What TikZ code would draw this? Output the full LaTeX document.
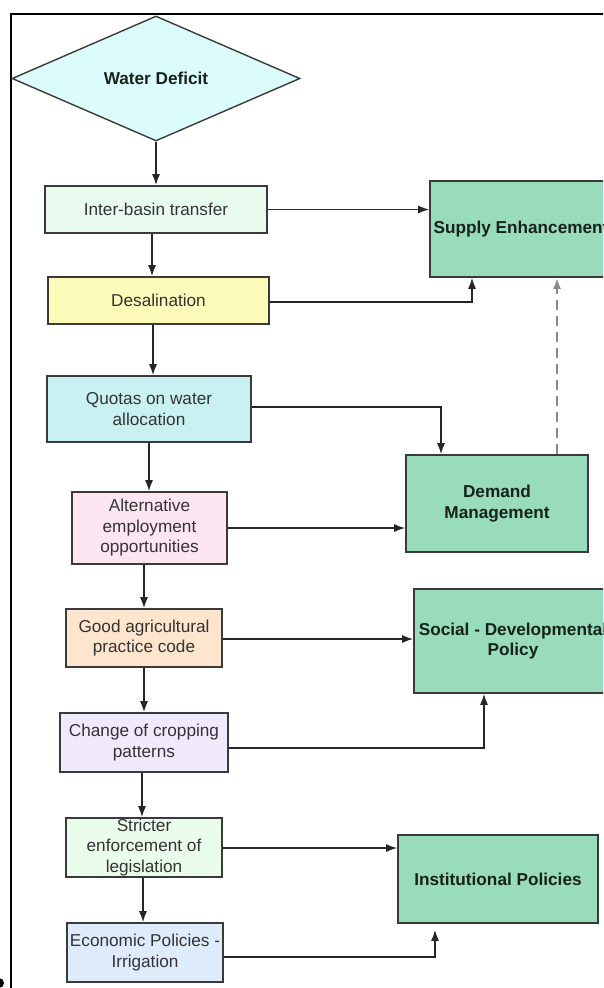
\documentclass[tikz,border=0pt]{standalone}
\usepackage{fontspec}
\setmainfont{Liberation Sans}
\usetikzlibrary{shapes.geometric,arrows.meta}

\definecolor{framecol}{HTML}{000000}
\definecolor{edgecol}{HTML}{3A3A3A}
\definecolor{txtcol}{HTML}{333333}
\definecolor{boldcol}{HTML}{16221B}
\definecolor{deficitfill}{HTML}{DCFCFC}
\definecolor{mintfill}{HTML}{E9FBEF}
\definecolor{yellowfill}{HTML}{FDFBB9}
\definecolor{cyanfill}{HTML}{C9F1F1}
\definecolor{pinkfill}{HTML}{FDE5F1}
\definecolor{peachfill}{HTML}{FDE5CE}
\definecolor{lilacfill}{HTML}{F1E9FC}
\definecolor{greenfill}{HTML}{EAFCEB}
\definecolor{bluefill}{HTML}{DDEBFA}
\definecolor{policyfill}{HTML}{98DCBB}
\definecolor{dashcol}{HTML}{8A8A8A}

\tikzset{
  basefont/.style={font=\fontsize{17.2}{20.5}\selectfont},
  actionbox/.style={basefont, draw=edgecol, line width=1.6pt, rectangle,
    inner sep=0pt, align=center, text=txtcol},
  policybox/.style={draw=edgecol, line width=1.6pt, rectangle,
    inner sep=0pt, align=center, fill=policyfill, text=boldcol,
    font=\fontsize{17.2}{20.5}\selectfont\bfseries},
  link/.style={draw=black!85, line width=1.5pt,
    -{Latex[length=11pt,width=8pt]}},
  dashlink/.style={draw=dashcol, line width=2.2pt, dash pattern=on 10pt off 6pt,
    -{Latex[length=11pt,width=8pt]}},
}

\begin{document}
\begin{tikzpicture}[x=1pt,y=-1pt]
  \useasboundingbox (0,0) rectangle (603,988);
  \clip (0,0) rectangle (603,988);

  % outer frame (top and left edges)
  \draw[framecol, line width=2.5pt] (11,988) -- (11,14) -- (610,14);
  \fill[black] (-1,983) circle (5);

  % decision
  \node[diamond, draw=edgecol, line width=1.4pt, fill=deficitfill,
        minimum width=288pt, minimum height=125pt, inner sep=0pt,
        text=boldcol, font=\fontsize{17.2}{20.5}\selectfont\bfseries]
        (wd) at (156,78.5) {Water Deficit};

  % measures
  \node[actionbox, fill=mintfill, minimum width=222pt, minimum height=47pt]
        (ib) at (156,209.5) {Inter-basin transfer};
  \node[actionbox, fill=yellowfill, minimum width=221pt, minimum height=47pt]
        (ds) at (158.5,300.5) {Desalination};
  \node[actionbox, fill=cyanfill, minimum width=204pt, minimum height=66pt]
        (qt) at (149,409) {Quotas on water\\allocation};
  \node[actionbox, fill=pinkfill, minimum width=155pt, minimum height=72pt]
        (ae) at (149.5,528) {Alternative\\employment\\opportunities};
  \node[actionbox, fill=peachfill, minimum width=156pt, minimum height=58pt]
        (ga) at (144,638) {Good agricultural\\practice code};
  \node[actionbox, fill=lilacfill, minimum width=168pt, minimum height=59pt]
        (cp) at (144,742.5) {Change of cropping\\patterns};
  \node[actionbox, fill=greenfill, minimum width=156pt, minimum height=59pt]
        (se) at (144,847.5) {Stricter\\enforcement of\\legislation};
  \node[actionbox, fill=bluefill, minimum width=156pt, minimum height=59pt]
        (ep) at (145,952.5) {Economic Policies -\\Irrigation};

  % policy groups
  \node[policybox, minimum width=182pt, minimum height=96pt]
        (sup) at (521,229) {Supply Enhancement};
  \node[policybox, minimum width=182pt, minimum height=97pt]
        (dm) at (497,503.5) {Demand\\Management};
  \node[policybox, minimum width=198pt, minimum height=104pt]
        (sd) at (513,641) {Social - Developmental\\Policy};
  \node[policybox, minimum width=200pt, minimum height=88pt]
        (ip) at (498,879) {Institutional Policies};

  % main chain
  \draw[link] (wd.south) -- (ib.north);
  \draw[link] (ib.south -| 152,0) -- (ds.north -| 152,0);
  \draw[link] (ds.south -| 153,0) -- (qt.north -| 153,0);
  \draw[link] (qt.south -| 149,0) -- (ae.north -| 149,0);
  \draw[link] (ae.south -| 144,0) -- (ga.north -| 144,0);
  \draw[link] (ga.south -| 144,0) -- (cp.north -| 144,0);
  \draw[link] (cp.south -| 142,0) -- (se.north -| 142,0);
  \draw[link] (se.south -| 143,0) -- (ep.north -| 143,0);

  % links to policy groups
  \draw[link] (ib.east) -- (sup.west |- ib.east);
  \draw[link] (ds.east |- 0,302) -| (sup.south -| 472,0);
  \draw[link] (qt.east |- 0,407) -| (dm.north -| 441,0);
  \draw[link] (ae.east) -- (dm.west |- ae.east);
  \draw[link] (ga.east |- 0,639) -- (sd.west |- 0,639);
  \draw[link] (cp.east |- 0,748) -| (sd.south -| 484,0);
  \draw[link] (se.east |- 0,848) -- (ip.west |- 0,848);
  \draw[link] (ep.east |- 0,957) -| ([yshift=-6pt]ip.south -| 435,0);
  \draw[dashlink] (dm.north -| 557,0) -- (sup.south -| 557,0);
\end{tikzpicture}
\end{document}
